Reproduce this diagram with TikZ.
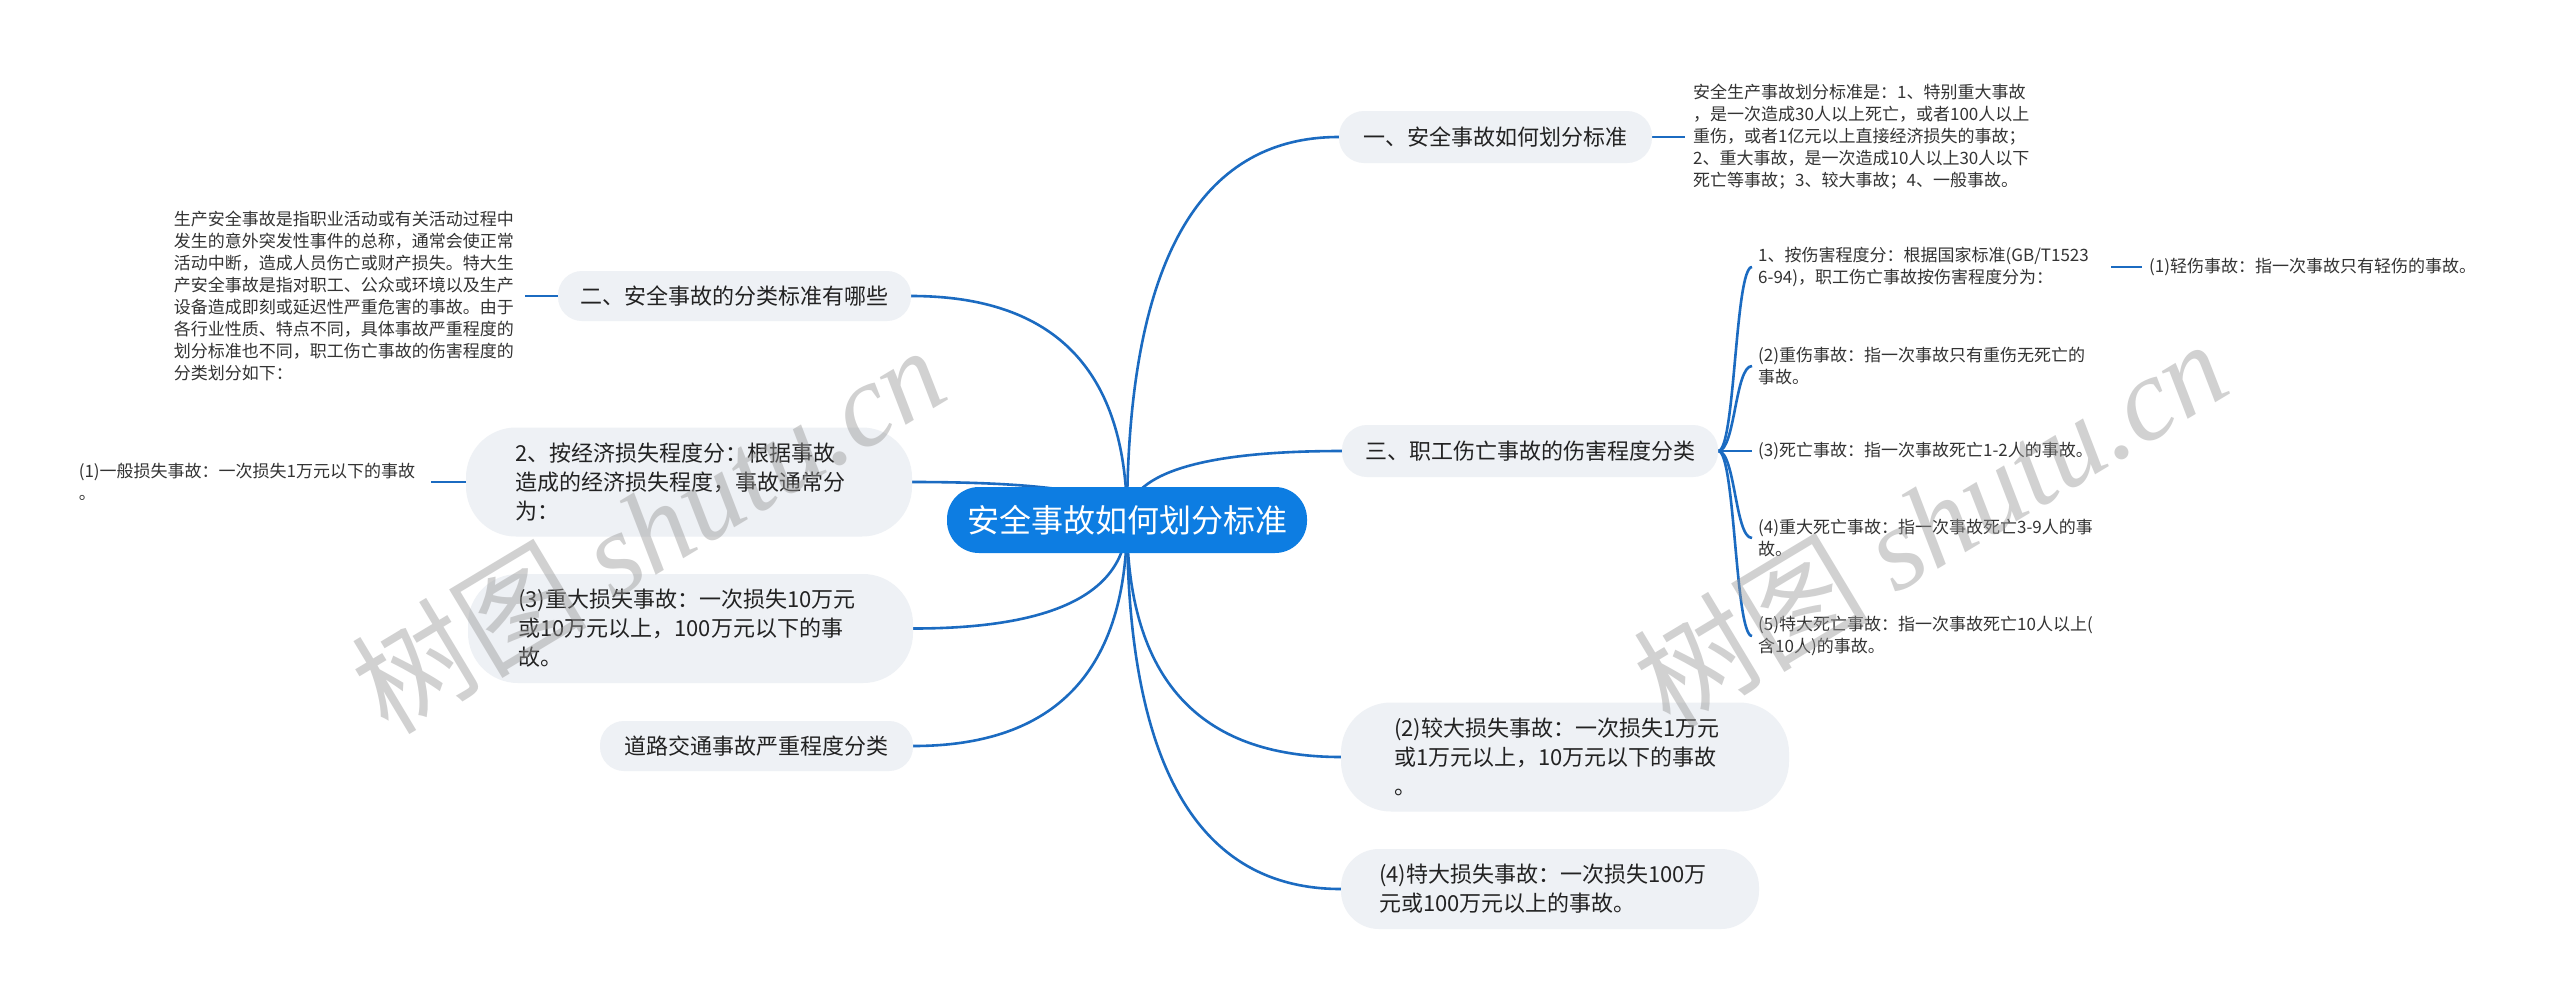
\documentclass[tikz,border=0pt]{standalone}
\usepackage{fontspec}
\newfontfamily\cjk{Noto Sans CJK SC}
\newfontfamily\wmserif{Liberation Serif}
\usetikzlibrary{calc,backgrounds}
\definecolor{linec}{HTML}{1B6BC1}
\definecolor{rootc}{HTML}{0D7DE2}
\definecolor{nodefill}{HTML}{EEF1F5}
\definecolor{textc}{HTML}{222222}
\definecolor{subtc}{HTML}{333333}
\newcommand{\mmconn}[1]{%
  \path (C.center |- #1) coordinate (mmq);
  \draw[conn] (C.center) .. controls ($(C.center)!0.6667!(mmq)$) and ($(#1)!0.6667!(mmq)$) .. (#1);}
\newcommand{\brconn}[2]{%
  \draw[conn] (#1.east) .. controls ($(#1.east)+(17,0)$) and ($(#2.west)+(-17,0)$) .. (#2.west);}
\begin{document}
\begin{tikzpicture}[x=1pt,y=-1pt,
  conn/.style={draw=linec, line width=2.6pt},
  root/.style={fill=rootc, text=white, rounded corners=32pt, minimum width=360pt, minimum height=66pt, inner sep=0pt, font=\cjk\fontsize{32}{38}\selectfont},
  topic/.style={fill=nodefill, text=textc, inner sep=0pt, font=\cjk\fontsize{22}{29}\selectfont},
  sub/.style={text=subtc, inner ysep=0pt, font=\cjk\fontsize{17}{22}\selectfont, align=left},
  wm/.style={text=black!40, text opacity=0.45, inner sep=0pt}]
\useasboundingbox (0,0) rectangle (2560,1002);

% root
\node[root] (C) at (1127,520) {安全事故如何划分标准};

% right level-1
\node[topic, rounded corners=25pt, minimum width=313pt, minimum height=52pt] (n1) at (1495.5,137) {一、安全事故如何划分标准};
\node[topic, rounded corners=25pt, minimum width=376pt, minimum height=52pt] (n6) at (1530,451) {三、职工伤亡事故的伤害程度分类};
\node[topic, rounded corners=50pt, minimum width=448pt, minimum height=109pt, text width=342pt, align=left] (n7) at (1565,757) {(2)较大损失事故：一次损失1万元\\或1万元以上，10万元以下的事故\\。};
\node[topic, rounded corners=38pt, minimum width=418pt, minimum height=80pt, text width=342pt, align=left] (n8) at (1550,889) {(4)特大损失事故：一次损失100万\\元或100万元以上的事故。};

% left level-1
\node[topic, rounded corners=24pt, minimum width=353pt, minimum height=50pt] (n2) at (734.5,296) {二、安全事故的分类标准有哪些};
\node[topic, rounded corners=50pt, minimum width=446pt, minimum height=109pt, text width=348pt, align=left] (n3) at (689,482) {2、按经济损失程度分：根据事故\\造成的经济损失程度，事故通常分\\为：};
\node[topic, rounded corners=50pt, minimum width=445pt, minimum height=109pt, text width=345pt, align=left] (n4) at (690.5,628.5) {(3)重大损失事故：一次损失10万元\\或10万元以上，100万元以下的事\\故。};
\node[topic, rounded corners=24pt, minimum width=313pt, minimum height=50pt] (n5) at (756.5,746) {道路交通事故严重程度分类};

% level-2 texts
\node[sub, anchor=west, inner xsep=8pt, text width=345pt] (n1t) at (1685,137) {安全生产事故划分标准是：1、特别重大事故\\，是一次造成30人以上死亡，或者100人以上\\重伤，或者1亿元以上直接经济损失的事故；\\2、重大事故，是一次造成10人以上30人以下\\死亡等事故；3、较大事故；4、一般事故。};
\node[sub, anchor=east, inner xsep=5pt, text width=346pt] (n2t) at (525,296) {生产安全事故是指职业活动或有关活动过程中\\发生的意外突发性事件的总称，通常会使正常\\活动中断，造成人员伤亡或财产损失。特大生\\产安全事故是指对职工、公众或环境以及生产\\设备造成即刻或延迟性严重危害的事故。由于\\各行业性质、特点不同，具体事故严重程度的\\划分标准也不同，职工伤亡事故的伤害程度的\\分类划分如下：};
\node[sub, anchor=east, inner xsep=8pt, text width=344pt] (n3c) at (431,482) {(1)一般损失事故：一次损失1万元以下的事故\\。};

\node[sub, anchor=west, inner xsep=6pt, text width=347pt] (c1) at (1752,267) {1、按伤害程度分：根据国家标准(GB/T1523\\6-94)，职工伤亡事故按伤害程度分为：};
\node[sub, anchor=west, inner xsep=6pt, text width=347pt] (c2) at (1752,366) {(2)重伤事故：指一次事故只有重伤无死亡的\\事故。};
\node[sub, anchor=west, inner xsep=6pt, text width=347pt] (c3) at (1752,451) {(3)死亡事故：指一次事故死亡1-2人的事故。};
\node[sub, anchor=west, inner xsep=6pt, text width=347pt] (c4) at (1752,538) {(4)重大死亡事故：指一次事故死亡3-9人的事\\故。};
\node[sub, anchor=west, inner xsep=6pt, text width=347pt] (c5) at (1752,636) {(5)特大死亡事故：指一次事故死亡10人以上(\\含10人)的事故。};
\node[sub, anchor=west, inner xsep=7pt] (c1a) at (2142,267) {(1)轻伤事故：指一次事故只有轻伤的事故。};

% connectors
\begin{scope}[on background layer]
  \fill[white] (0,0) rectangle (2560,1002);
  \mmconn{n1.west}
  \mmconn{n6.west}
  \mmconn{n7.west}
  \mmconn{n8.west}
  \mmconn{n2.east}
  \mmconn{n3.east}
  \mmconn{n4.east}
  \mmconn{n5.east}
  \draw[conn] (n1.east) -- (n1t.west);
  \draw[conn] (n2.west) -- (n2t.east);
  \draw[conn] (n3.west) -- (n3c.east);
  \draw[conn] (c1.east) -- (c1a.west);
  \brconn{n6}{c1}
  \brconn{n6}{c2}
  \brconn{n6}{c3}
  \brconn{n6}{c4}
  \brconn{n6}{c5}
\end{scope}

% watermarks
\node[wm, rotate=31, font=\cjk\fontsize{118}{124}\selectfont] (wm1) at (648,528) {树图 {\wmserif\itshape shutu.cn}};
\node[wm, rotate=31, font=\cjk\fontsize{118}{124}\selectfont] (wm2) at (1930,522) {树图 {\wmserif\itshape shutu.cn}};
\end{tikzpicture}
\end{document}
